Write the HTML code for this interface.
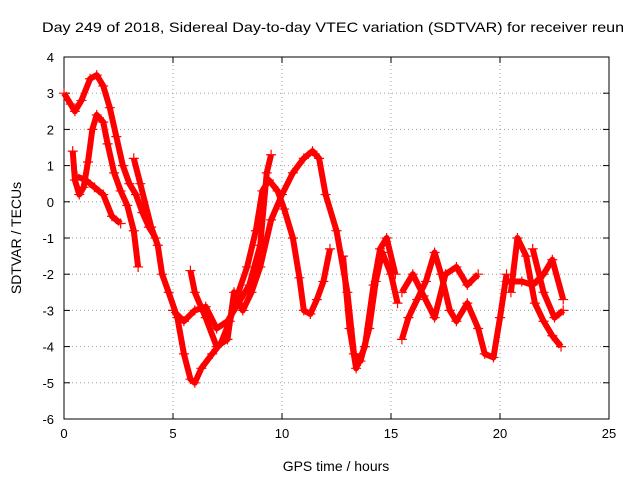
<!DOCTYPE html>
<html><head><meta charset="utf-8"><style>
body{margin:0;background:#fff}
svg{display:block;font-family:"Liberation Sans",sans-serif}
</style></head><body>
<svg id="chart" width="640" height="480" viewBox="0 0 640 480">
<rect width="640" height="480" fill="#fff"/>
<text x="42" y="32" font-size="14" textLength="582" lengthAdjust="spacingAndGlyphs">Day 249 of 2018, Sidereal Day-to-day VTEC variation (SDTVAR) for receiver reun</text>
<g id="grid"></g>
<g id="axes"></g>
<g id="marks"></g>
<text transform="translate(21,238) rotate(-90)" text-anchor="middle" font-size="14">SDTVAR / TECUs</text>
<text x="336" y="471" text-anchor="middle" font-size="14">GPS time / hours</text>
</svg>
<script>
const xTicks=[0,5,10,15,20,25];
const yTicks=[4,3,2,1,0,-1,-2,-3,-4,-5,-6];
const trackA_x=[0,0.3,0.5,0.8,1.2,1.5,1.8,2.1,2.4,2.7,3.0,3.3,3.6,3.9,4.2];
const trackA_y=[3.0,2.7,2.5,2.8,3.4,3.5,3.2,2.6,1.8,1.0,0.5,0.2,-0.3,-0.7,-1.0];
const trackB_x=[0.4,0.5,0.7,0.9,1.1,1.3,1.5,1.8,2.0,2.3,2.6,2.9,3.2,3.4];
const trackB_y=[1.4,0.6,0.2,0.4,1.1,2.0,2.4,2.2,1.6,0.8,0.3,-0.1,-0.8,-1.8];
const trackC_x=[0.6,1.0,1.4,1.8,2.2,2.6];
const trackC_y=[0.7,0.6,0.4,0.2,-0.4,-0.6];
const trackD_x=[3.2,3.5,4.0,4.3,4.5,4.8,5.2,5.5,5.8,6.0,6.3,6.8,7.2,7.6,8.0,8.4,8.8,9.1,9.4,9.8,10.1,10.5,10.8,11.0,11.3,11.6,11.9,12.2];
const trackD_y=[1.2,0.5,-0.7,-1.2,-2.0,-2.5,-3.2,-4.2,-4.9,-5.0,-4.6,-4.2,-3.9,-3.3,-2.5,-1.8,-0.8,0.3,0.6,0.3,-0.2,-1.0,-2.1,-3.0,-3.1,-2.7,-2.2,-1.3];
const trackE_x=[5.0,5.5,6.0,6.5,7.0,7.5,8.0,8.5,9.0,9.3,9.5];
const trackE_y=[-3.0,-3.3,-3.0,-2.9,-3.5,-3.3,-2.8,-2.3,-1.2,0.8,1.3];
const trackF_x=[5.8,6.0,6.5,7.0,7.5,7.8,8.2,8.6,9.0,9.5,10.0,10.5,11.0,11.4,11.7,12.0,12.5,13.0,13.3,13.6,14.0,14.3,14.6,15.0,15.3];
const trackF_y=[-1.9,-2.5,-3.2,-4.0,-3.8,-2.5,-3.0,-2.5,-1.8,-0.5,0.2,0.8,1.2,1.4,1.2,0.2,-0.8,-2.5,-4.2,-4.4,-3.5,-2.2,-1.4,-2.0,-2.8];
const trackG_x=[12.8,13.1,13.4,13.8,14.2,14.5,14.8,15.2];
const trackG_y=[-1.5,-3.5,-4.6,-4.0,-2.3,-1.3,-1.0,-2.0];
const trackH_x=[15.5,15.8,16.2,16.6,17.0,17.3,17.7,18.0,18.5,19.0,19.3,19.7,20.0,20.3];
const trackH_y=[-3.8,-3.2,-2.7,-2.2,-1.4,-2.0,-3.0,-3.3,-2.8,-3.5,-4.2,-4.3,-3.2,-2.0];
const trackI_x=[15.5,16.0,16.5,17.0,17.5,18.0,18.5,19.0];
const trackI_y=[-2.5,-2.0,-2.6,-3.2,-2.0,-1.8,-2.3,-2.0];
const trackJ_x=[20.5,20.8,21.2,21.6,22.0,22.4,22.8];
const trackJ_y=[-2.5,-1.0,-1.5,-2.8,-3.3,-3.7,-4.0];
const trackK_x=[20.3,21.0,21.5,22.0,22.4,22.9];
const trackK_y=[-2.2,-2.2,-2.3,-2.0,-1.6,-2.7];
const trackL_x=[21.5,22.0,22.5,22.9];
const trackL_y=[-1.3,-2.5,-3.2,-3.0];
const tracks=[[trackA_x,trackA_y],[trackB_x,trackB_y],[trackC_x,trackC_y],[trackD_x,trackD_y],[trackE_x,trackE_y],[trackF_x,trackF_y],[trackG_x,trackG_y],[trackH_x,trackH_y],[trackI_x,trackI_y],[trackJ_x,trackJ_y],[trackK_x,trackK_y],[trackL_x,trackL_y]];

const NS="http://www.w3.org/2000/svg";
const L=64,R=609,T=57,B=419;
const sx=v=>L+(v-0)/25*(R-L);
const sy=v=>T+(4-v)/10*(B-T);
function mk(tag,attrs,parent){const e=document.createElementNS(NS,tag);for(const k in attrs)e.setAttribute(k,attrs[k]);parent.appendChild(e);return e;}
const grid=document.getElementById('grid'),axes=document.getElementById('axes'),marks=document.getElementById('marks');
xTicks.forEach(t=>{
  const x=sx(t);
  if(t>0&&t<25){const g=mk('line',{x1:x,x2:x,y1:T,y2:B,stroke:'#a0a0a0','stroke-dasharray':'1,3'},grid);
  
  }
  const tk=mk('line',{x1:x,x2:x,y1:B,y2:B-6,stroke:'#000'},axes);
  
  
  const tk2=mk('line',{x1:x,x2:x,y1:T,y2:T+6,stroke:'#000'},axes);
  
  
  const lb=mk('text',{x:x,y:B+19,'text-anchor':'middle','font-size':'13'},axes);lb.textContent=t;
  
  
});
yTicks.forEach(t=>{
  const y=sy(t);
  if(t<4&&t>-6){const g=mk('line',{x1:L,x2:R,y1:y,y2:y,stroke:'#a0a0a0','stroke-dasharray':'1,3'},grid);
  
  }
  const tk=mk('line',{x1:L,x2:L+6,y1:y,y2:y,stroke:'#000'},axes);
  
  
  const tk2=mk('line',{x1:R,x2:R-6,y1:y,y2:y,stroke:'#000'},axes);
  
  
  const lb=mk('text',{x:L-10,y:y+5,'text-anchor':'end','font-size':'13'},axes);lb.textContent=t;
  
  
});
const frame=mk('rect',{x:L,y:T,width:R-L,height:B-T,fill:'none',stroke:'#000'},axes);


tracks.forEach(([xs,ys])=>{
  const pts=xs.map((x,i)=>sx(x)+','+sy(ys[i])).join(' ');
  const pl=mk('polyline',{points:pts,fill:'none',stroke:'#f00','stroke-width':'6','stroke-linejoin':'round'},marks);
  
  
  xs.forEach((x,i)=>{
    const cx=sx(x),cy=sy(ys[i]);
    const p=mk('path',{d:`M${cx-5},${cy}h10M${cx},${cy-5}v10`,stroke:'#f00','stroke-width':'1.2'},marks);
    
    
  });
});
</script>
</body></html>
